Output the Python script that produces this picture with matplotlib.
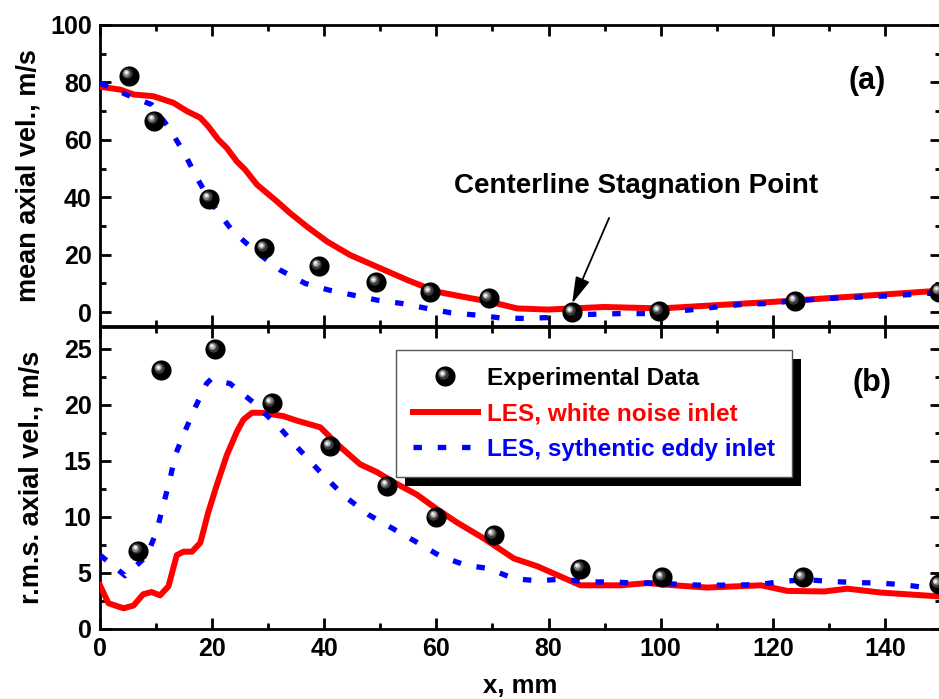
import matplotlib
matplotlib.use("Agg")
import matplotlib.pyplot as plt
from matplotlib.lines import Line2D
from matplotlib.legend_handler import HandlerBase
from matplotlib.transforms import ScaledTranslation
from matplotlib.patches import Rectangle
from matplotlib.ticker import MultipleLocator

# ---------------- data ----------------
# (a) mean axial velocity
exp_a_x = [5.2, 9.7, 19.5, 29.3, 39.0, 49.3, 58.9, 69.3, 84.2, 99.7, 124.0, 149.7]
exp_a_y = [82.4, 66.7, 39.5, 22.3, 16.1, 10.4, 6.9, 4.8, 0.0, 0.3, 3.9, 7.1]

wn_a_x = [0, 3.6, 6, 9.5, 13.1, 15.5, 17.9, 19.3, 21.1, 22.6, 24.4, 25.9, 28, 31.6, 33.9, 36.9,
          40.5, 44.6, 49.4, 54.8, 60.1, 64.9, 69.6, 74.4, 79.8, 89.9, 100, 120.2, 133.3, 150]
wn_a_y = [78.5, 77.5, 75.8, 75.2, 72.9, 70, 67.7, 64.7, 60.1, 57.2, 52.5, 49.6, 44.4, 38.5, 34.5, 29.8,
          24.6, 19.9, 15.8, 11.2, 7.1, 5.3, 3.6, 1.3, 0.9, 1.8, 1.3, 3.6, 5.3, 7.5]

se_a_x = [0, 5.4, 9.2, 12.5, 15.2, 17.3, 19.9, 23.5, 27.4, 32.1, 36.6, 40.8, 45.2, 49.4, 53.9, 58.3,
          62.5, 67, 71.4, 75.6, 79.8, 83.9, 88.7, 92.9, 97.3, 101.5, 105.9, 110.4, 114.6, 119,
          123.5, 127.7, 132.1, 136.3, 140.8, 145.2, 150]
se_a_y = [79.8, 75.2, 72.3, 63.6, 54.8, 46.7, 38, 28.6, 21.7, 14.7, 10, 7.7, 5.9, 4.2, 3.0, 1.3,
          -0.2, -1.0, -2.0, -2.2, -1.9, -1.0, -0.7, -0.5, -0.5, 0.1, 0.9, 1.9, 2.7, 3.0,
          3.9, 4.5, 5.0, 5.3, 5.7, 6.2, 6.8]

# (b) r.m.s. axial velocity
exp_b_x = [6.8, 10.9, 20.5, 30.6, 41.0, 51.2, 59.9, 70.2, 85.6, 100.3, 125.3, 149.6]
exp_b_y = [7.0, 23.1, 25.0, 20.15, 16.3, 12.8, 10.0, 8.4, 5.4, 4.6, 4.6, 4.0]

wn_b_x = [0, 1.5, 4.2, 6, 7.7, 9.2, 10.7, 12.2, 13.7, 14.9, 16.4, 17.9, 19.3, 20.8, 22.6, 24.4,
          25.6, 27.1, 28.9, 32.7, 35.1, 39.3, 42.3, 46.4, 49.4, 52.4, 56.5, 60.1, 63.7, 68.4,
          73.8, 78, 85.7, 92.9, 97.6, 102.4, 108.3, 117.9, 122.6, 129.2, 133.3, 139.3, 150]
wn_b_y = [3.9, 2.3, 1.85, 2.1, 3.1, 3.3, 3.0, 3.8, 6.6, 6.9, 6.9, 7.7, 10.4, 12.8, 15.5, 17.6,
          18.7, 19.3, 19.3, 19.0, 18.6, 18.0, 16.5, 14.7, 14.0, 13.1, 12.0, 10.7, 9.5, 8.1,
          6.3, 5.6, 3.9, 3.9, 4.1, 3.9, 3.7, 3.9, 3.4, 3.35, 3.6, 3.25, 2.9]

se_b_x = [0, 4.5, 8.3, 10.1, 11.3, 12.5, 13.4, 15.2, 17, 19, 19.8, 23.2, 27.4, 31.8, 35.4, 39.3,
          43.5, 47.9, 52.1, 56.3, 60.7, 65.2, 69.3, 73.8, 78, 82.4, 86.9, 91.4, 95.5, 100,
          104.2, 108.6, 117.3, 121.7, 125.9, 130.4, 134.5, 139, 143.4, 147.9, 150]
se_b_y = [6.6, 4.75, 6.5, 8.7, 11.1, 13.4, 15.5, 17.7, 19.8, 21.9, 22.3, 21.9, 20.2, 18.1, 16.1, 14.0,
          11.9, 10.2, 9.0, 7.8, 6.5, 5.7, 5.4, 4.5, 4.3, 4.45, 4.2, 4.2, 4.1, 4.1,
          3.95, 3.9, 3.95, 4.25, 4.4, 4.25, 4.15, 4.1, 3.95, 3.65, 3.8]

labels = ["Experimental Data", "LES, white noise inlet", "LES, sythentic eddy inlet"]

# ---------------- style ----------------
FONT = "Liberation Sans"
plt.rcParams["font.family"] = [FONT, "DejaVu Sans"]
plt.rcParams["font.weight"] = "bold"

RED = "#ff0000"
BLUE = "#0000ff"
SPHERE_LAYERS = [  # markersize, color, dx(pt), dy(pt)
    (14.5, "black", 0.0, 0.0),
    (7.5, "#3a3a3a", -1.7, 1.7),
    (5.2, "#808080", -2.1, 2.1),
    (3.4, "#c8c8c8", -2.4, 2.4),
    (1.7, "#ffffff", -2.5, 2.5),
]

fig = plt.figure(figsize=(9.39, 6.99), dpi=100)
W, H = 939, 699
left_px, right_px = 100, 941
axA = fig.add_axes([left_px / W, 1 - 326.5 / H, (right_px - left_px) / W, (326.5 - 25) / H])
axB = fig.add_axes([left_px / W, 1 - 629 / H, (right_px - left_px) / W, (629 - 326.5) / H])


def spheres(ax, xs, ys):
    for ms, c, dx, dy in SPHERE_LAYERS:
        tr = ax.transData + ScaledTranslation(dx / 72, dy / 72, fig.dpi_scale_trans)
        ax.plot(xs, ys, ls="none", marker="o", ms=ms, mfc=c, mec="none",
                transform=tr, zorder=5, clip_on=False)


def style(ax):
    ax.set_xlim(0, 150)
    ax.xaxis.set_major_locator(MultipleLocator(20))
    ax.xaxis.set_minor_locator(MultipleLocator(10))
    ax.tick_params(which="both", direction="in", top=True, right=True, width=2,
                   labelsize=18, pad=6)
    ax.tick_params(which="major", length=8)
    ax.tick_params(which="minor", length=4)
    for s in ax.spines.values():
        s.set_linewidth(2)
    for lab in ax.get_xticklabels() + ax.get_yticklabels():
        lab.set_fontweight("bold")


DASH = (0, (1.6, 3.0))

# ---- panel (a)
axA.plot(wn_a_x, wn_a_y, color=RED, lw=4.3, zorder=3, solid_joinstyle="round")
axA.plot(se_a_x, se_a_y, color=BLUE, lw=3.8, ls=DASH, dash_capstyle="butt", zorder=4)
spheres(axA, exp_a_x, exp_a_y)
axA.set_ylim(-5, 100)
axA.yaxis.set_major_locator(MultipleLocator(20))
axA.yaxis.set_minor_locator(MultipleLocator(10))
style(axA)
axA.tick_params(labelbottom=False)
axA.set_ylabel("mean axial vel., m/s", fontsize=19.5, fontweight="bold", labelpad=6)
fig.text(867 / W, 1 - 81 / H, "(a)", fontsize=22, fontweight="bold",
         ha="center", va="center")
axA.annotate("", xy=(84.2, 3.0), xytext=(90.8, 32.8),
             arrowprops=dict(arrowstyle="-|>,head_length=0.9,head_width=0.25", color="black",
                             lw=1.3, mutation_scale=18, shrinkA=0, shrinkB=0))
axA.text(95.6, 41.6, "Centerline Stagnation Point", fontsize=20, fontweight="bold",
         ha="center", va="baseline")

# ---- panel (b)
axB.plot(wn_b_x, wn_b_y, color=RED, lw=4.3, zorder=3, solid_joinstyle="round")
axB.plot(se_b_x, se_b_y, color=BLUE, lw=3.8, ls=DASH, dash_capstyle="butt", zorder=4)
spheres(axB, exp_b_x, exp_b_y)
axB.set_ylim(0, 27)
axB.yaxis.set_major_locator(MultipleLocator(5))
axB.yaxis.set_minor_locator(MultipleLocator(2.5))
style(axB)
axB.set_ylabel("r.m.s. axial vel., m/s", fontsize=19.5, fontweight="bold", labelpad=14)
axB.set_xlabel("x, mm", fontsize=18.5, fontweight="bold", labelpad=9)
fig.text(872 / W, 1 - 383 / H, "(b)", fontsize=22, fontweight="bold",
         ha="center", va="center")


class SphereHandler(HandlerBase):
    def create_artists(self, legend, orig_handle, xdescent, ydescent, width, height,
                       fontsize, trans):
        cx = 0.5 * width - xdescent
        cy = 0.5 * height - ydescent
        arts = []
        for ms, c, dx, dy in SPHERE_LAYERS:
            l = Line2D([cx + dx], [cy + dy], ls="none", marker="o", ms=ms, mfc=c, mec="none")
            l.set_transform(trans)
            arts.append(l)
        return arts


class SphereKey:
    pass


h_exp = SphereKey()
h_wn = Line2D([], [], color=RED, lw=4.3)
h_se = Line2D([], [], color=BLUE, lw=3.8, ls=DASH, dash_capstyle="butt")
leg = axB.legend([h_exp, h_wn, h_se], labels, loc="upper left",
                 bbox_to_anchor=((396 - left_px) / (right_px - left_px), (629 - 350) / (629 - 326.5)),
                 borderaxespad=0, frameon=True, fancybox=False, framealpha=1,
                 edgecolor="#555555", fontsize=17.5, handlelength=2.7, handletextpad=0.37,
                 labelspacing=0.52, borderpad=0.68,
                 handler_map={SphereKey: SphereHandler()})
leg.get_frame().set_linewidth(1.0)
for t, c in zip(leg.get_texts(), ["black", RED, BLUE]):
    t.set_color(c)
    t.set_fontweight("bold")
leg.set_zorder(10)

# black drop shadow behind legend
fig.canvas.draw()
bb = leg.get_window_extent()
off = 9
inv = fig.transFigure.inverted()
(x0, y0) = inv.transform((bb.x0 + off, bb.y0 - off))
(x1, y1) = inv.transform((bb.x1 + off, bb.y1 - off))
shadow = Rectangle((x0, y0), x1 - x0, y1 - y0, transform=fig.transFigure,
                   facecolor="black", edgecolor="none", zorder=9)
axB.add_artist(shadow)
shadow.set_transform(fig.transFigure)

fig.savefig("out.png", dpi=100)
